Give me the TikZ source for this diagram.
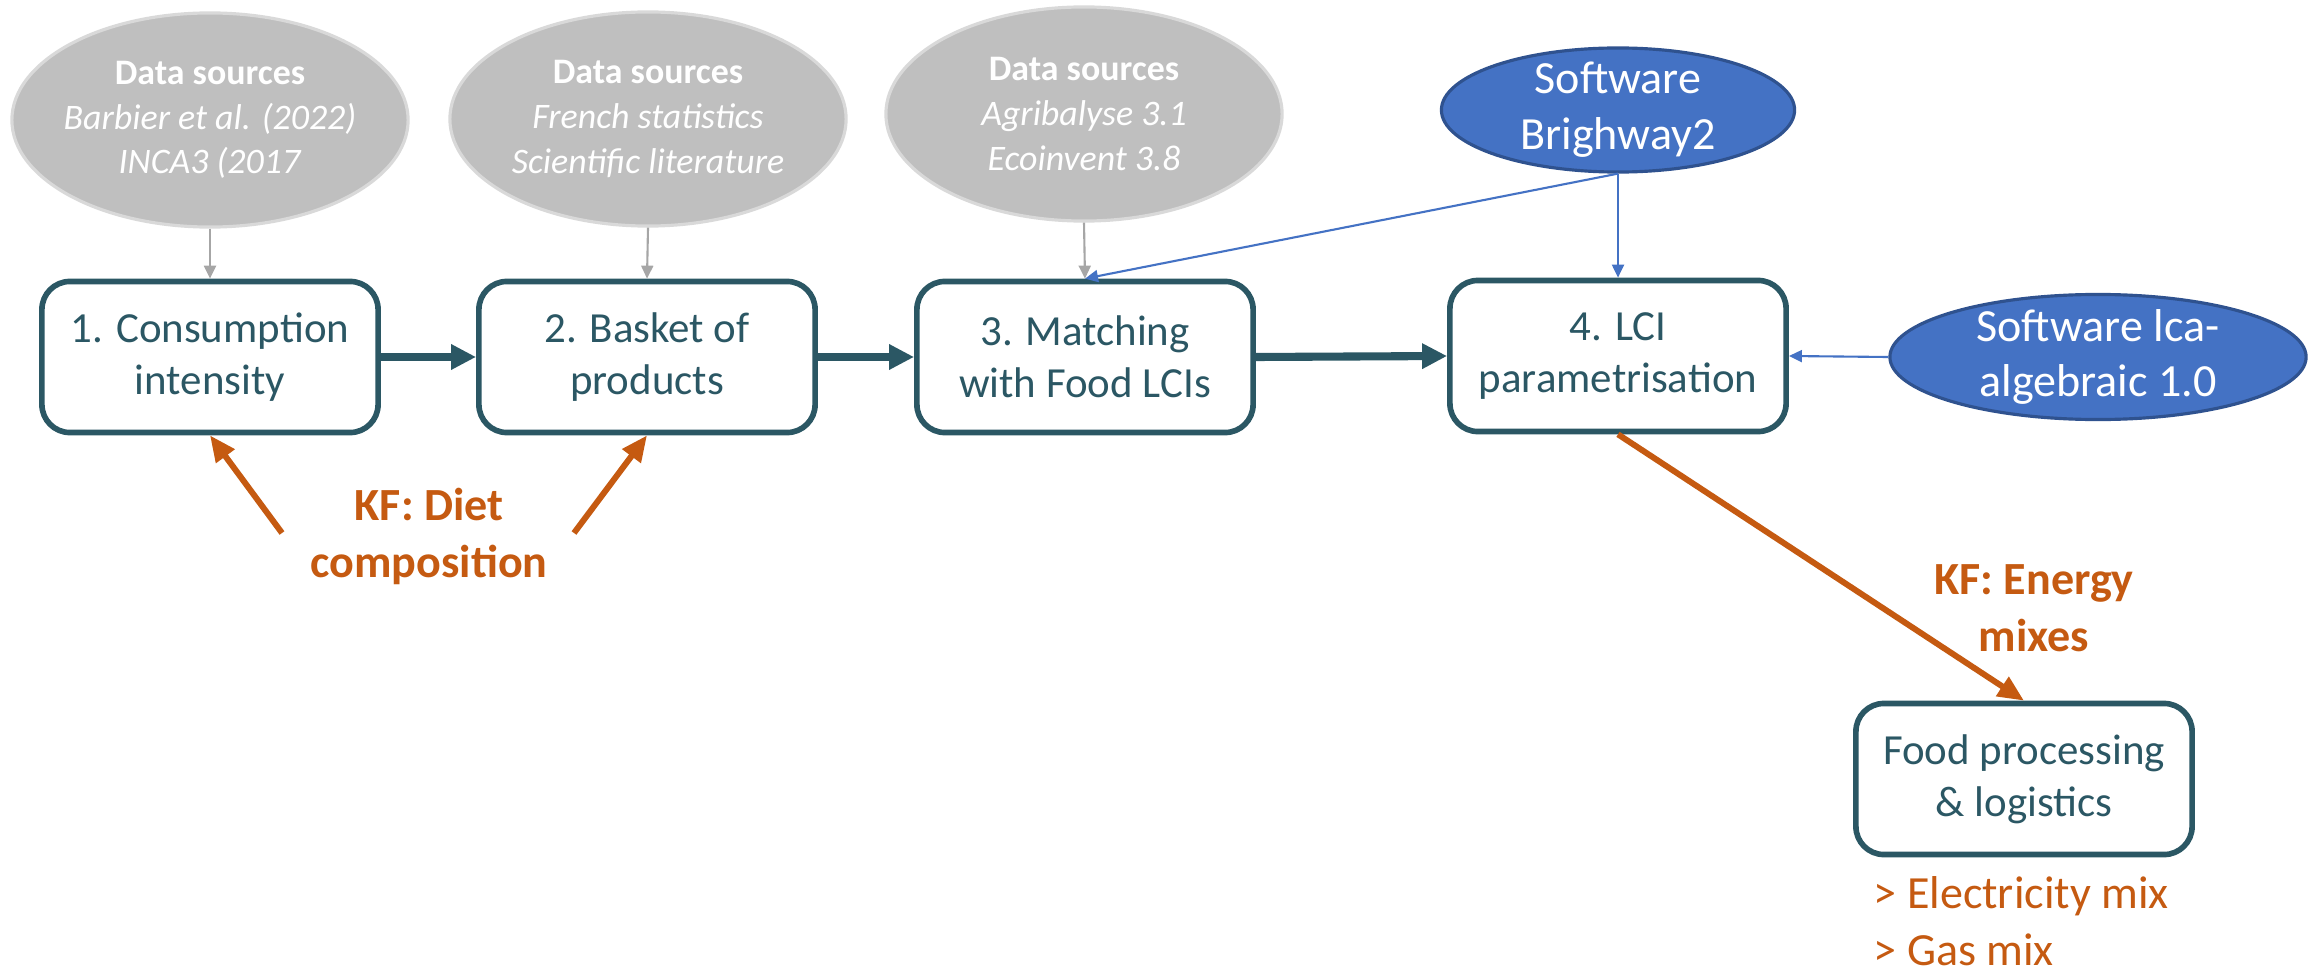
\documentclass[tikz,border=0pt]{standalone}
\usepackage{fontspec}
\setmainfont{Carlito}
\usetikzlibrary{shapes.geometric,arrows.meta}

\definecolor{stepteal}{HTML}{2B5764}
\definecolor{srcgray}{HTML}{BFBFBF}
\definecolor{srcedge}{HTML}{D9D9D9}
\definecolor{arrowgray}{HTML}{A6A6A6}
\definecolor{swblue}{HTML}{4472C4}
\definecolor{swedge}{HTML}{2F528F}
\definecolor{kforange}{HTML}{C55A11}

\begin{document}
\begin{tikzpicture}[x=0.01cm,y=-0.01cm,
  stepbox/.style={draw=stepteal, line width=1.6pt, rounded corners=0.28cm, fill=white,
    minimum width=3.36cm, minimum height=1.51cm, inner sep=0pt, align=center,
    text=stepteal, font=\fontsize{12.2pt}{14.8pt}\selectfont},
  srcshape/.style={ellipse, draw=srcedge, line width=0.9pt, fill=srcgray, inner sep=0pt,
    minimum width=3.96cm, minimum height=2.14cm},
  srctext/.style={align=center, text=white, inner sep=0pt,
    font=\fontsize{10.2pt}{12.7pt}\selectfont},
  swshape/.style={ellipse, draw=swedge, line width=0.9pt, fill=swblue, inner sep=0pt},
  swtext/.style={align=center, text=white, inner sep=0pt,
    font=\fontsize{13.1pt}{15.9pt}\selectfont},
  kftext/.style={align=center, text=kforange, inner sep=0pt,
    font=\fontsize{13.1pt}{16.2pt}\selectfont\bfseries},
  flow/.style={draw=stepteal, line width=2.3pt, -{Triangle[length=0.25cm,width=0.24cm]}},
  grayarrow/.style={draw=arrowgray, line width=0.6pt, -{Triangle[length=0.13cm,width=0.12cm]}},
  bluearrow/.style={draw=swblue, line width=0.6pt, -{Triangle[length=0.13cm,width=0.12cm]}},
  kfarrow/.style={draw=kforange, line width=1.7pt, -{Triangle[length=0.26cm,width=0.22cm]}}
]
\useasboundingbox (0,0) rectangle (2321,970);

% process steps
\node[stepbox] (b1) at (210,357) {1. Consumption\\intensity};
\node[stepbox] (b2) at (647,357) {2. Basket of\\products};
\node[stepbox] (b3) at (1085,357) {3. Matching\\with Food LCIs};
\node[stepbox] (b4) at (1618,356) {4. LCI\\parametrisation};
\node[stepbox] (b5) at (2024,779) {Food processing\\\& logistics};

% data sources
\node[srcshape] (s1) at (210,120) {};
\node[srctext] (s1t) at (s1.center) {\textbf{Data sources}\\\textit{Barbier et al. (2022)}\\\textit{INCA3 (2017}};
\node[srcshape] (s2) at (648,119) {};
\node[srctext] (s2t) at (s2.center) {\textbf{Data sources}\\\textit{French statistics}\\\textit{Scientific literature}};
\node[srcshape] (s3) at (1084,114) {};
\node[srctext] (s3t) at (s3.center) {\textbf{Data sources}\\\textit{Agribalyse 3.1}\\\textit{Ecoinvent 3.8}};

% software
\node[swshape, minimum width=3.53cm, minimum height=1.24cm] (bw) at (1618,110) {};
\node[swtext] (bwt) at (bw.center) {Software\\Brighway2};
\node[swshape, minimum width=4.16cm, minimum height=1.25cm] (lca) at (2098,357) {};
\node[swtext] (lcat) at (lca.center) {Software lca-\\algebraic 1.0};

% key factors
\node[kftext] (kfd) at (429,536) {KF: Diet\\composition};
\node[kftext] (kfe) at (2034,608) {KF: Energy\\mixes};
\node[align=left, text=kforange, inner sep=0pt, anchor=west,
  font=\fontsize{13.1pt}{16.2pt}\selectfont] (mix) at (1873,921)
  {> Electricity mix\\> Gas mix};

% main flow
\draw[flow] (b1.east) -- (b2.west);
\draw[flow] (b2.east) -- (b3.west);
\draw[flow] (b3.east) -- (b4.west);

% inputs
\draw[grayarrow] (s1.south) -- (b1.north);
\draw[grayarrow] (s2.south) -- (b2.north);
\draw[grayarrow] (s3.south) -- (b3.north);
\draw[bluearrow] (bw.south) -- (b4.north);
\draw[bluearrow] (bw.south) -- (b3.north);
\draw[bluearrow] (lca.west) -- (b4.east);

% key factor arrows
\coordinate (d1) at (282,533);
\coordinate (d2) at (574,533);
\draw[kfarrow] (d1) -- (b1.south);
\draw[kfarrow] (d2) -- (b2.south);
\draw[kfarrow] (b4.south) -- (b5.north);
\end{tikzpicture}
\end{document}
